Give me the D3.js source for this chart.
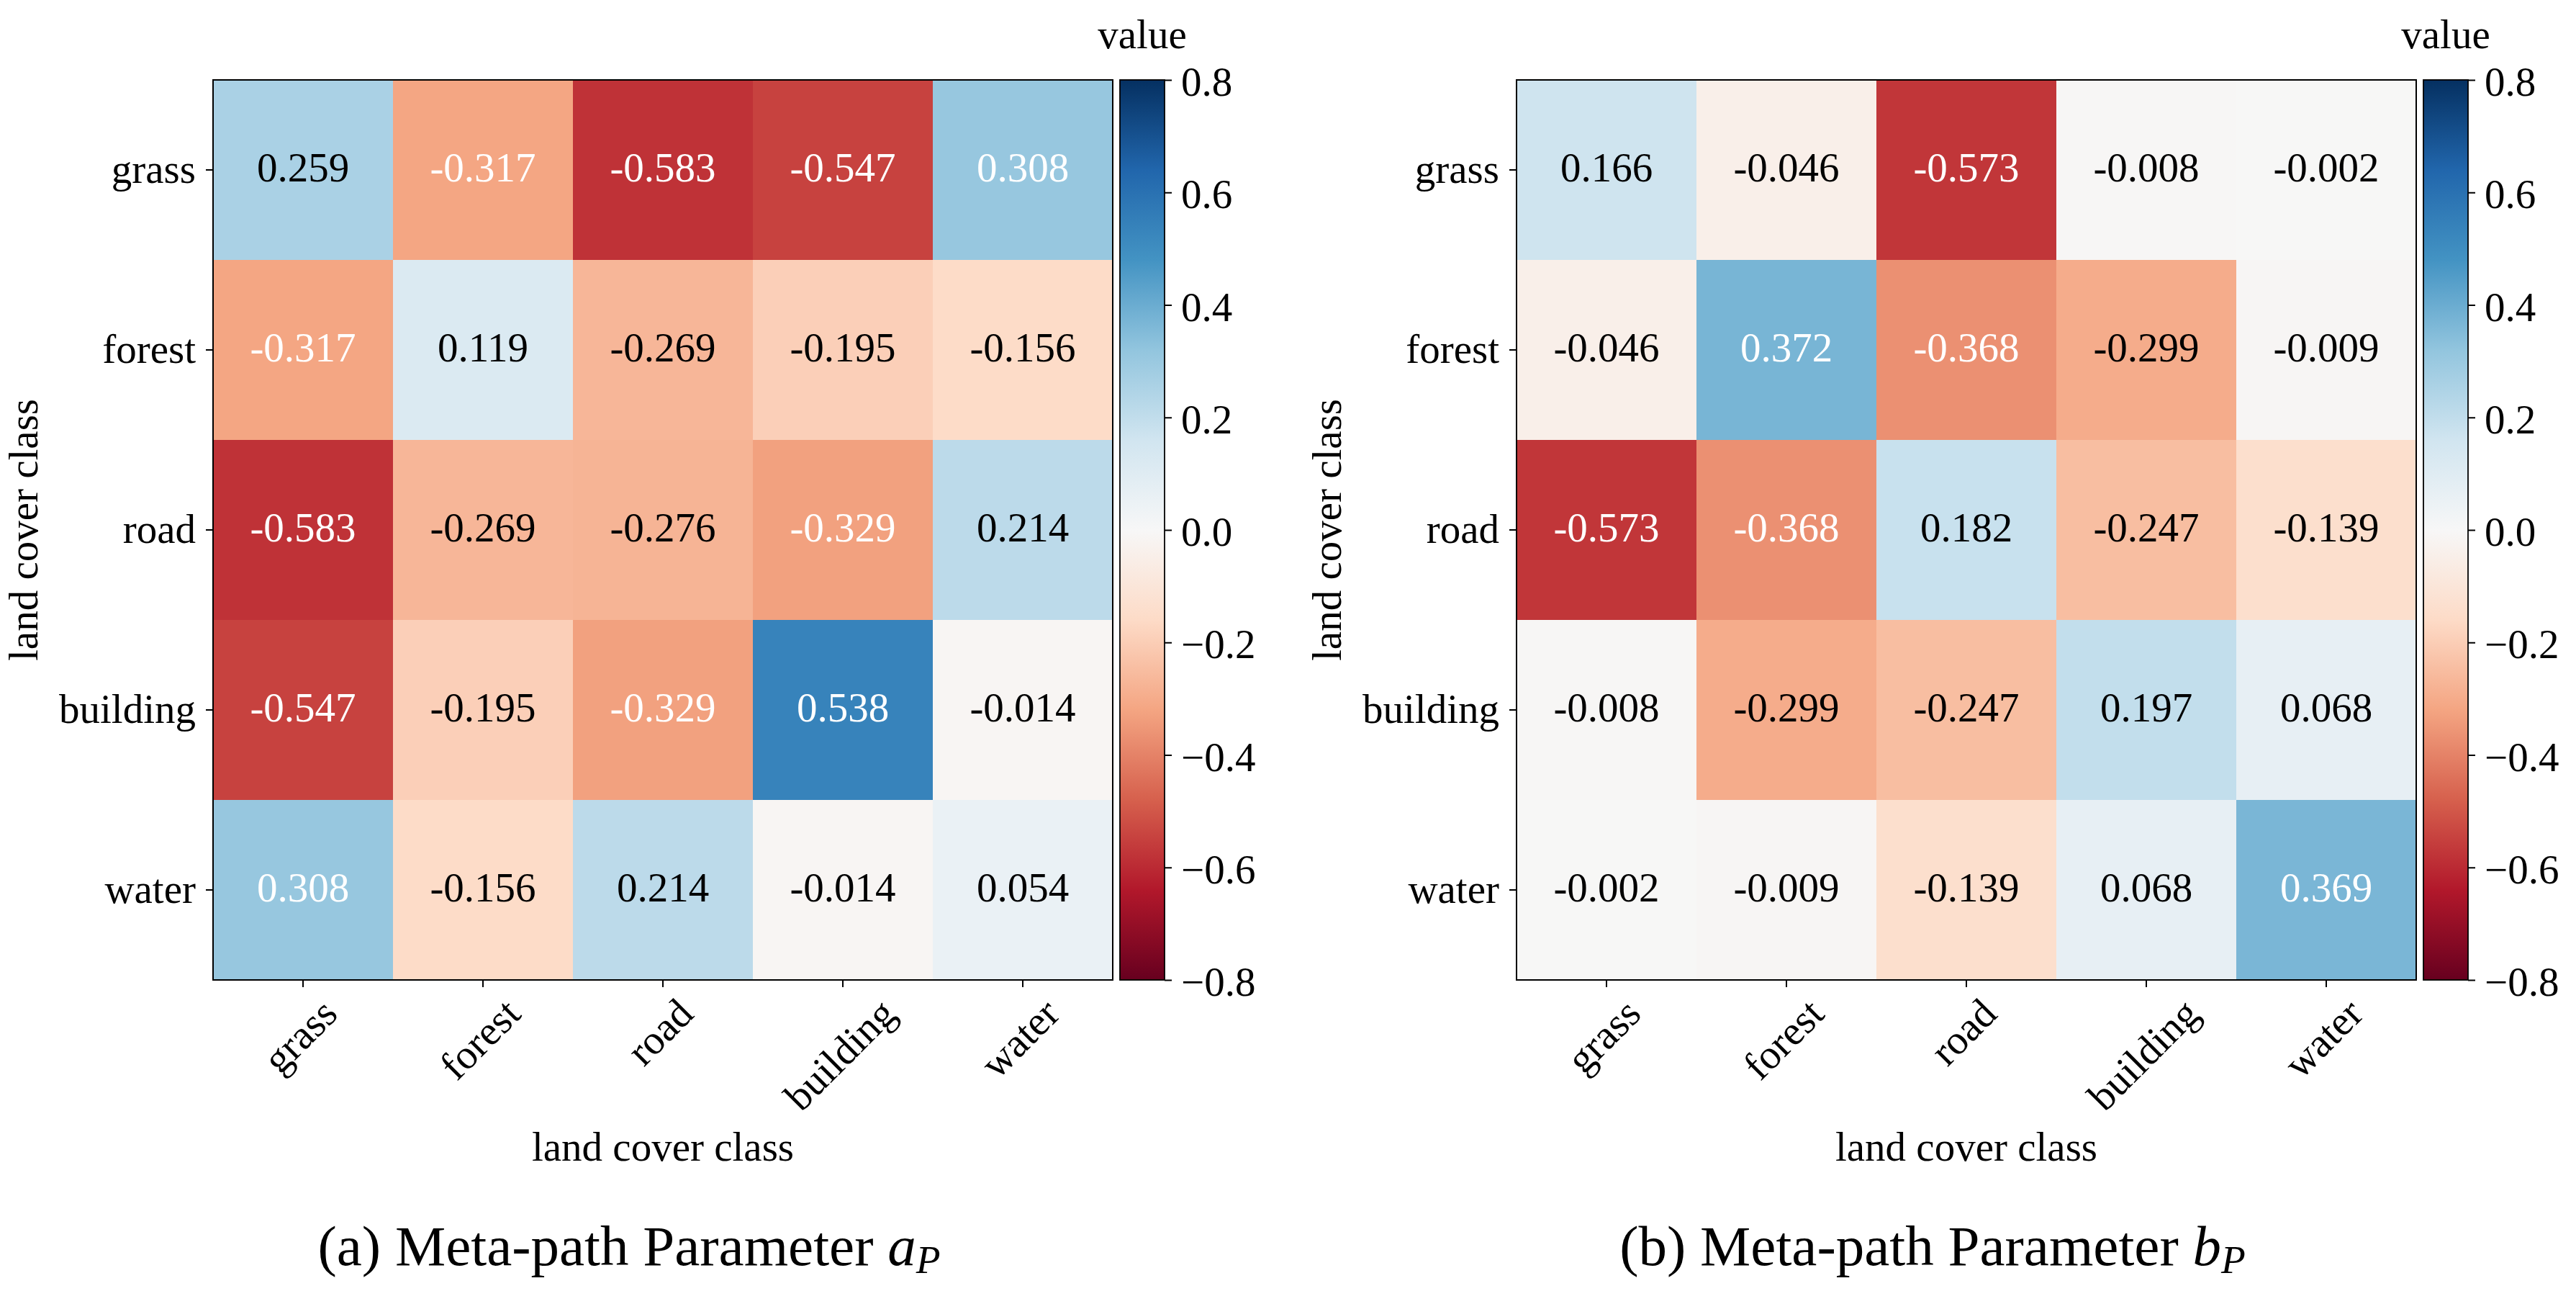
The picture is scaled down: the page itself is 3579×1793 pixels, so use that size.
<!DOCTYPE html>
<html><head><meta charset="utf-8">
<script src="https://cdn.jsdelivr.net/npm/d3@7"></script>
<style>
html,body{margin:0;padding:0;background:#fff;}
svg text{font-family:"Liberation Serif","Times New Roman",serif;}
</style></head><body>
<svg id="c" width="3579" height="1793"></svg>
<script>
// ---------------- data ----------------
const classes = ["grass", "forest", "road", "building", "water"];
const valuesA = [
  [ 0.259, -0.317, -0.583, -0.547,  0.308],
  [-0.317,  0.119, -0.269, -0.195, -0.156],
  [-0.583, -0.269, -0.276, -0.329,  0.214],
  [-0.547, -0.195, -0.329,  0.538, -0.014],
  [ 0.308, -0.156,  0.214, -0.014,  0.054]
];
const valuesB = [
  [ 0.166, -0.046, -0.573, -0.008, -0.002],
  [-0.046,  0.372, -0.368, -0.299, -0.009],
  [-0.573, -0.368,  0.182, -0.247, -0.139],
  [-0.008, -0.299, -0.247,  0.197,  0.068],
  [-0.002, -0.009, -0.139,  0.068,  0.369]
];
const colorbarTicks = [0.8, 0.6, 0.4, 0.2, 0.0, -0.2, -0.4, -0.6, -0.8];
const colorDomain = [-0.8, 0.8];
const rdbuColors = ["#67001f","#b2182b","#d6604d","#f4a582","#fddbc7","#f7f7f7",
                    "#d1e5f0","#92c5de","#4393c3","#2166ac","#053061"];
const titlePrefixes = ["(a) Meta-path Parameter ", "(b) Meta-path Parameter "];
const titleSymbols = ["a", "b"];
const titleSubscripts = ["P", "P"];
const axisLabel = "land cover class";
const colorbarLabel = "value";

// ---------------- layout ----------------
const FS = 57, TFS = 79;
const panelLefts = [296, 2107];
const TOP = 111, SIZE = 1250;
const TICK = 10;
const CB_GAP = 10, CB_W = 62;
const textThreshold = 0.3;

const svg = d3.select("#c");
const defs = svg.append("defs");

const [vmin, vmax] = colorDomain;
const stopsDomain = d3.range(rdbuColors.length).map(i => vmin + i * (vmax - vmin) / (rdbuColors.length - 1));
const color = d3.scaleLinear().domain(stopsDomain).range(rdbuColors)
  .interpolate(d3.interpolateRgb).clamp(true);

const grad = defs.append("linearGradient").attr("id", "cbgrad")
  .attr("x1", 0).attr("y1", 1).attr("x2", 0).attr("y2", 0);
grad.selectAll("stop").data(stopsDomain).join("stop")
  .attr("offset", d => (d - vmin) / (vmax - vmin))
  .attr("stop-color", d => color(d));

const ASC = 0.683 * FS, DESC = 0.217 * FS;
const datasets = [valuesA, valuesB];

datasets.forEach((vals, pi) => {
  const left = panelLefts[pi];
  const g = svg.append("g").attr("transform", `translate(${left},${TOP})`);
  const x = d3.scaleBand().domain(classes).range([0, SIZE]);
  const y = d3.scaleBand().domain(classes).range([0, SIZE]);
  const cells = [];
  vals.forEach((row, i) => row.forEach((v, j) => cells.push({ r: classes[i], c: classes[j], v })));

  g.selectAll("rect.cell").data(cells).join("rect").attr("class", "cell")
    .attr("x", d => x(d.c)).attr("y", d => y(d.r))
    .attr("width", x.bandwidth() + 0.6).attr("height", y.bandwidth() + 0.6)
    .attr("fill", d => color(d.v));

  g.selectAll("text.ann").data(cells).join("text").attr("class", "ann")
    .attr("x", d => x(d.c) + x.bandwidth() / 2)
    .attr("y", d => y(d.r) + y.bandwidth() / 2)
    .attr("dy", "0.28em")
    .attr("text-anchor", "middle")
    .attr("font-size", FS)
    .attr("fill", d => Math.abs(d.v) > textThreshold ? "#ffffff" : "#000000")
    .text(d => d.v.toFixed(3));

  g.append("rect").attr("x", 0).attr("y", 0).attr("width", SIZE).attr("height", SIZE)
    .attr("fill", "none").attr("stroke", "#000").attr("stroke-width", 2);

  // y axis
  const ay = g.append("g").call(d3.axisLeft(y).tickSize(TICK).tickPadding(14));
  ay.attr("font-family", null).attr("font-size", FS);
  ay.select(".domain").remove();
  ay.selectAll(".tick line").attr("stroke", "#000").attr("stroke-width", 2);
  ay.selectAll(".tick text").attr("dy", "0.31em").attr("fill", "#000");

  // x axis
  const ax = g.append("g").attr("transform", `translate(0,${SIZE})`)
    .call(d3.axisBottom(x).tickSize(TICK).tickPadding(0));
  ax.attr("font-family", null).attr("font-size", FS);
  ax.select(".domain").remove();
  ax.selectAll(".tick line").attr("stroke", "#000").attr("stroke-width", 2);
  ax.selectAll(".tick text").each(function () {
    const t = d3.select(this);
    t.attr("y", 0).attr("dy", 0).attr("text-anchor", "start").attr("fill", "#000");
    const w = this.getComputedTextLength();
    const c = Math.SQRT1_2;
    const pts = [[0, -ASC], [w, -ASC], [0, DESC], [w, DESC]].map(([px, py]) => [c * (px + py), c * (py - px)]);
    const minX = d3.min(pts, p => p[0]), maxX = d3.max(pts, p => p[0]);
    const minY = d3.min(pts, p => p[1]);
    const tx = -(minX + maxX) / 2;
    const ty = TICK + 12.5 - minY;
    t.attr("transform", `translate(${tx},${ty}) rotate(-45)`);
  });

  // axis labels
  g.append("text").attr("x", SIZE / 2).attr("y", 1612 - TOP)
    .attr("text-anchor", "middle").attr("font-size", FS).text(axisLabel);
  g.append("text").attr("transform", `translate(-244,${SIZE / 2}) rotate(-90)`)
    .attr("text-anchor", "middle").attr("font-size", FS).text(axisLabel);

  // colorbar
  const cbx = SIZE + CB_GAP;
  g.append("rect").attr("x", cbx).attr("y", 0).attr("width", CB_W).attr("height", SIZE)
    .attr("fill", "url(#cbgrad)").attr("stroke", "#000").attr("stroke-width", 1.8);
  const cbScale = d3.scaleLinear().domain(colorDomain).range([SIZE, 0]);
  const acb = g.append("g").attr("transform", `translate(${cbx + CB_W},0)`)
    .call(d3.axisRight(cbScale).tickValues(colorbarTicks).tickSize(TICK).tickPadding(13)
      .tickFormat(d3.format(".1f")));
  acb.attr("font-family", null).attr("font-size", FS);
  acb.select(".domain").remove();
  acb.selectAll(".tick line").attr("stroke", "#000").attr("stroke-width", 2);
  acb.selectAll(".tick text").attr("dy", "0.377em").attr("fill", "#000");
  g.append("text").attr("x", cbx + CB_W / 2).attr("y", 67 - TOP)
    .attr("text-anchor", "middle").attr("font-size", FS).text(colorbarLabel);

  // panel title
  const tt = svg.append("text").attr("x", left + 578).attr("y", 1757)
    .attr("text-anchor", "middle").attr("font-size", TFS);
  tt.append("tspan").text(titlePrefixes[pi]);
  tt.append("tspan").attr("font-style", "italic").text(titleSymbols[pi]);
  tt.append("tspan").attr("font-style", "italic").attr("font-size", 0.7 * TFS)
    .attr("dy", 11).text(titleSubscripts[pi]);
});
</script>
</body></html>
